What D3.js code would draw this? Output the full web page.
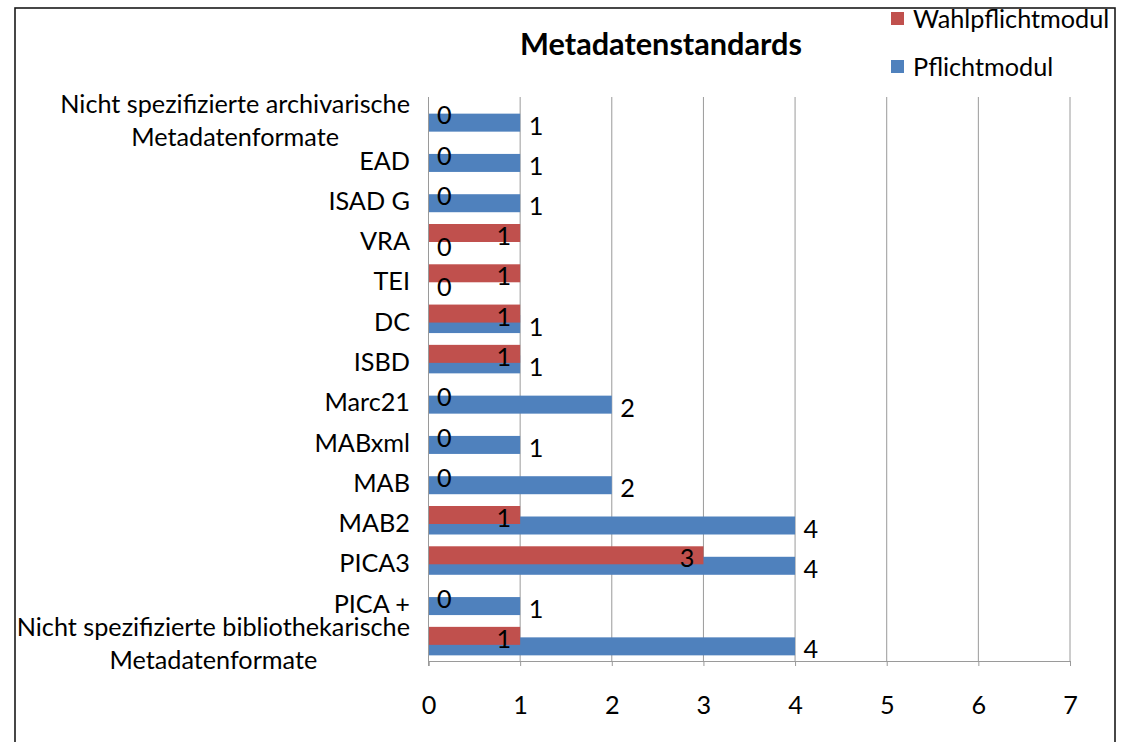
<!DOCTYPE html>
<html>
<head>
<meta charset="utf-8">
<script src="https://cdn.jsdelivr.net/npm/d3@7"></script>
<style>
  html, body { margin: 0; padding: 0; background: #fff; }
  svg text { font-family: Lato, "Open Sans", sans-serif; fill: #000; }
</style>
</head>
<body>
<svg id="chart" width="1123" height="742"></svg>
<script>
// ---- data (top to bottom as shown) ----
const categories = [
  "Nicht spezifizierte archivarische\nMetadatenformate",
  "EAD", "ISAD G", "VRA", "TEI", "DC", "ISBD", "Marc21", "MABxml", "MAB",
  "MAB2", "PICA3", "PICA +",
  "Nicht spezifizierte bibliothekarische\nMetadatenformate"
];
const pflichtmodul     = [1, 1, 1, 0, 0, 1, 1, 2, 1, 2, 4, 4, 1, 4];
const wahlpflichtmodul = [0, 0, 0, 1, 1, 1, 1, 0, 0, 0, 1, 3, 0, 1];
const xTickValues = [0, 1, 2, 3, 4, 5, 6, 7];
const seriesNames = ["Wahlpflichtmodul", "Pflichtmodul"];
const seriesColors = ["#C0504D", "#4F81BD"];
const chartTitle = "Metadatenstandards";

// ---- layout ----
const svg = d3.select("#chart");
const plot = { left: 428.5, right: 1070, top: 97, bottom: 661 };
const x = d3.scaleLinear().domain([0, 7]).range([plot.left, plot.right]);
const y = d3.scaleBand().domain(categories).range([plot.top, plot.bottom]).paddingInner(0).paddingOuter(0);
const gridColor = "#9a9a9a";

// measuring helper
function measure(txt, size, weight) {
  const t = svg.append("text").attr("font-size", size).attr("font-weight", weight || "normal").text(txt);
  const w = t.node().getComputedTextLength();
  t.remove();
  return w;
}
const baseFs = 20;
const labelFs = baseFs * 350 / measure("Nicht spezifizierte archivarische", baseFs);
const titleFs = 26 * 282 / measure(chartTitle, 26, "bold");

// outer border
svg.append("rect").attr("x", 15).attr("y", 8).attr("width", 1100).attr("height", 760)
  .attr("fill", "none").attr("stroke", "#1a1a1a").attr("stroke-width", 1.6);

// gridlines
svg.append("g").selectAll("line").data(xTickValues.filter(d => d > 0)).join("line")
  .attr("x1", d => x(d)).attr("x2", d => x(d))
  .attr("y1", plot.top).attr("y2", plot.bottom)
  .attr("stroke", gridColor).attr("stroke-width", 1);

// bars: blue first, red on top
const bh = 18;
const gBars = svg.append("g");
gBars.selectAll("rect.p").data(categories).join("rect").attr("class", "p")
  .attr("x", x(0)).attr("width", (d, i) => x(pflichtmodul[i]) - x(0))
  .attr("y", d => y(d) + y.bandwidth() / 2 - 3.5).attr("height", bh)
  .attr("fill", seriesColors[1]);
gBars.selectAll("rect.w").data(categories).join("rect").attr("class", "w")
  .attr("x", x(0)).attr("width", (d, i) => x(wahlpflichtmodul[i]) - x(0))
  .attr("y", d => y(d) + y.bandwidth() / 2 - 14).attr("height", bh)
  .attr("fill", seriesColors[0]);

// axes
const xAxis = d3.axisBottom(x).tickValues(xTickValues).tickFormat(d3.format("d")).tickSize(5).tickPadding(30);
const gx = svg.append("g").attr("transform", `translate(0,${plot.bottom})`).call(xAxis);
gx.select(".domain").attr("stroke", gridColor);
gx.selectAll(".tick line").attr("stroke", gridColor);
gx.selectAll(".tick text").attr("font-size", labelFs).attr("font-family", "Lato, 'Open Sans', sans-serif").attr("fill", "#000");

svg.append("line").attr("x1", plot.left).attr("x2", plot.left).attr("y1", plot.top).attr("y2", plot.bottom + 5)
  .attr("stroke", gridColor).attr("stroke-width", 1);

// category labels
const digitHalf = labelFs * 0.36;
const catG = svg.append("g");
categories.forEach(c => {
  const lines = c.split("\n");
  const cy = y(c) + y.bandwidth() / 2 + 3;
  const lh = 33;
  const widths = lines.map(l => measure(l, labelFs));
  const bw = Math.max(...widths);
  const rightX = 410;
  lines.forEach((l, k) => {
    const ly = cy + (k - (lines.length - 1) / 2) * lh + digitHalf;
    catG.append("text").attr("font-size", labelFs)
      .attr("text-anchor", lines.length > 1 ? "middle" : "end")
      .attr("x", lines.length > 1 ? rightX - bw / 2 : rightX)
      .attr("y", ly).text(l);
  });
});

// data labels
const lblG = svg.append("g");
lblG.selectAll("text.p").data(categories).join("text").attr("class", "p")
  .attr("font-size", labelFs)
  .attr("x", (d, i) => x(pflichtmodul[i]) + 8.5)
  .attr("y", d => y(d) + y.bandwidth() / 2 + 5.5 + 3 + digitHalf)
  .text((d, i) => pflichtmodul[i]);
lblG.selectAll("text.w").data(categories).join("text").attr("class", "w")
  .attr("font-size", labelFs)
  .attr("text-anchor", (d, i) => wahlpflichtmodul[i] === 0 ? "start" : "end")
  .attr("x", (d, i) => wahlpflichtmodul[i] === 0 ? x(0) + 8.5 : x(wahlpflichtmodul[i]) - 9)
  .attr("y", d => y(d) + y.bandwidth() / 2 - 5 + 3 + digitHalf)
  .text((d, i) => wahlpflichtmodul[i]);

// title
svg.append("text").attr("x", 661).attr("y", 55).attr("text-anchor", "middle")
  .attr("font-size", titleFs).attr("font-weight", "bold").text(chartTitle);

// legend
const legY = [19, 67];
const lg = svg.append("g");
seriesNames.forEach((n, i) => {
  lg.append("rect").attr("x", 891).attr("y", legY[i] - 7).attr("width", 13).attr("height", 13).attr("fill", seriesColors[i]);
  lg.append("text").attr("x", 913).attr("y", legY[i] + digitHalf).attr("font-size", labelFs).text(n);
});
</script>
</body>
</html>
